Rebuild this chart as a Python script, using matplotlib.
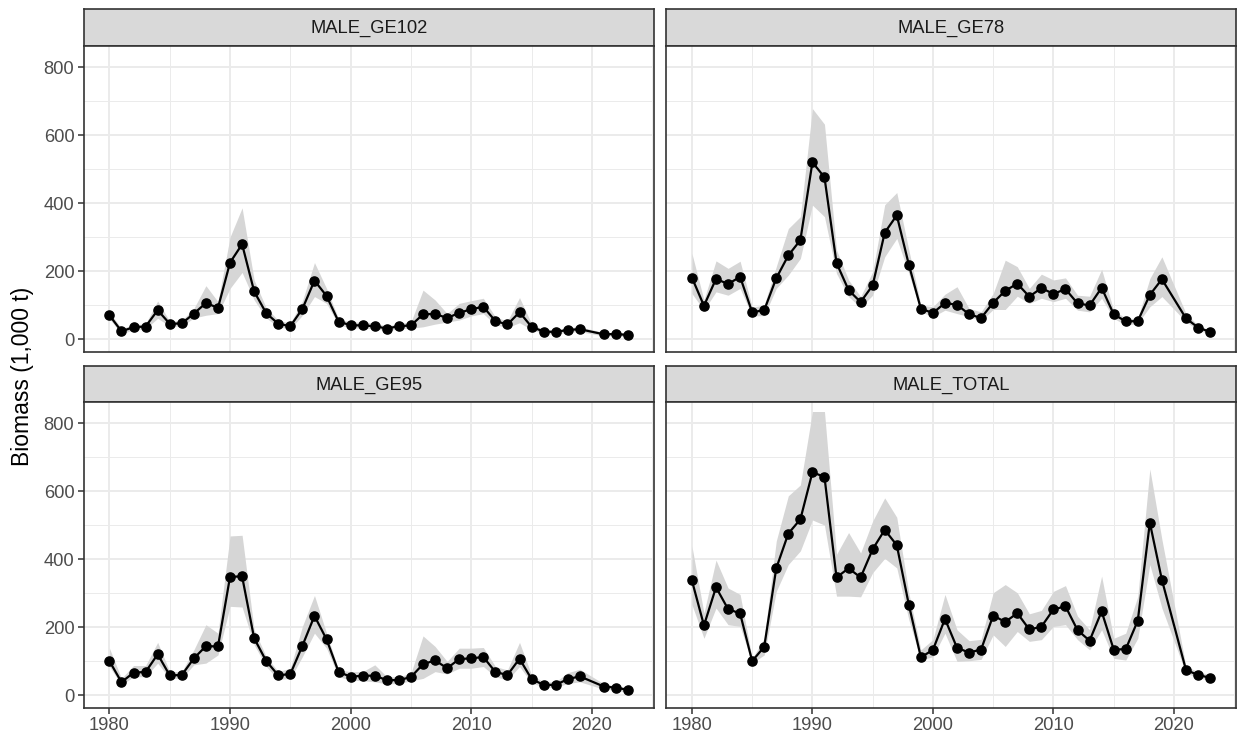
#!/usr/bin/env python3
# -*- coding: utf-8 -*-

import matplotlib
matplotlib.use('Agg')
import matplotlib.pyplot as plt

plt.rcParams['font.family'] = ['Liberation Sans', 'DejaVu Sans']

# survey years (no survey in 2020)
years = list(range(1980, 2020)) + [2021, 2022, 2023]

panel_names = ['MALE_GE102', 'MALE_GE78', 'MALE_GE95', 'MALE_TOTAL']

ge102_est = [70, 23, 35, 37, 85, 45, 46, 75, 106, 92,
             225, 279, 140, 76, 45, 38, 89, 172, 127, 51,
             41, 40, 38, 31, 38, 40, 73, 74, 62, 77,
             88, 95, 53, 43, 79, 36, 22, 21, 27, 29,
             14, 15, 12]
ge102_lo = [60, 15, 28, 30, 61, 38, 38, 62, 70, 75,
            149, 196, 115, 62, 36, 30, 70, 125, 105, 42,
            33, 32, 30, 25, 30, 32, 36, 44, 50, 56,
            68, 75, 42, 34, 48, 28, 16, 15, 20, 22,
            9, 10, 7]
ge102_hi = [80, 31, 42, 45, 112, 52, 55, 90, 157, 110,
            300, 386, 173, 92, 55, 47, 112, 225, 149, 60,
            50, 50, 48, 38, 46, 50, 144, 115, 75, 105,
            113, 120, 65, 53, 122, 45, 28, 27, 34, 36,
            19, 20, 17]

ge78_est = [181, 98, 177, 162, 183, 79, 85, 179, 246, 291,
            520, 476, 224, 144, 109, 158, 313, 364, 219, 89,
            77, 106, 101, 73, 62, 107, 142, 163, 125, 150,
            133, 147, 105, 99, 151, 73, 52, 53, 130, 176,
            61, 34, 21]
ge78_lo = [134, 85, 139, 129, 149, 68, 69, 149, 188, 237,
           394, 360, 193, 125, 93, 129, 242, 296, 193, 80,
           66, 85, 75, 66, 54, 87, 87, 126, 105, 120,
           110, 120, 85, 80, 120, 61, 41, 46, 95, 125,
           51, 26, 15]
ge78_hi = [252, 115, 230, 208, 229, 94, 100, 213, 325, 360,
           678, 632, 262, 174, 125, 198, 395, 431, 262, 100,
           95, 132, 154, 90, 80, 134, 232, 213, 149, 191,
           174, 180, 129, 126, 205, 85, 61, 61, 178, 242,
           75, 41, 25]

ge95_est = [100, 38, 66, 68, 120, 58, 59, 108, 144, 143,
            348, 349, 167, 100, 58, 62, 145, 233, 164, 68,
            54, 57, 57, 44, 44, 53, 91, 102, 79, 106,
            108, 112, 68, 59, 107, 47, 30, 30, 47, 55,
            25, 22, 15]
ge95_lo = [84, 30, 54, 54, 94, 49, 49, 89, 94, 118,
           261, 259, 148, 84, 46, 49, 113, 182, 138, 54,
           44, 42, 39, 33, 34, 42, 49, 69, 62, 79,
           79, 84, 54, 44, 84, 36, 23, 23, 34, 39,
           17, 15, 7]
ge95_hi = [138, 49, 87, 87, 155, 69, 69, 133, 207, 182,
           468, 470, 192, 113, 69, 79, 202, 293, 182, 74,
           69, 69, 89, 54, 54, 64, 174, 143, 99, 138,
           138, 140, 84, 74, 155, 59, 39, 39, 66, 76,
           33, 27, 23]

total_est = [337, 205, 317, 253, 240, 100, 142, 373, 475, 517,
             655, 642, 346, 373, 346, 429, 486, 441, 266, 111,
             133, 224, 139, 125, 134, 234, 215, 241, 193, 201,
             252, 261, 191, 160, 246, 134, 135, 219, 507, 339,
             74, 59, 51]
total_lo = [266, 167, 256, 207, 202, 94, 118, 305, 384, 424,
            515, 500, 291, 291, 289, 360, 402, 374, 222, 103,
            113, 182, 99, 101, 105, 177, 143, 187, 158, 163,
            202, 207, 163, 133, 192, 108, 103, 167, 384, 256,
            64, 52, 42]
total_hi = [438, 241, 397, 315, 296, 108, 167, 453, 586, 618,
            834, 834, 414, 478, 418, 512, 580, 523, 300, 133,
            163, 296, 192, 160, 164, 301, 325, 301, 239, 249,
            305, 322, 232, 192, 350, 167, 182, 290, 665, 458,
            84, 69, 59]

W, H = 1238, 742


def px_rect(x0, y0, x1, y1):
    # pixel box (top-left origin) -> figure fraction
    return [x0 / W, 1 - y1 / H, (x1 - x0) / W, (y1 - y0) / H]


def draw_strip(fig, x0, x1, y0, y1, name):
    sax = fig.add_axes(px_rect(x0, y0, x1, y1))
    sax.set_facecolor('#D9D9D9')
    sax.set_xticks([])
    sax.set_yticks([])
    for sp in sax.spines.values():
        sp.set_color('#333333')
        sp.set_linewidth(1.2)
    sax.text(0.5, 0.47, name, ha='center', va='center', fontsize=13.2,
             color='#1A1A1A', transform=sax.transAxes)


def draw_panel(fig, x0, x1, y0, y1, est, lo, hi, show_x, show_y):
    ax = fig.add_axes(px_rect(x0, y0, x1, y1))
    ax.set_facecolor('white')
    ax.fill_between(years, lo, hi, color='#D6D6D6', linewidth=0, zorder=2)
    ax.plot(years, est, color='black', linewidth=1.6, zorder=3)
    ax.plot(years, est, 'o', color='black', markersize=6.6, zorder=4)

    ax.set_xlim(1977.85, 2025.15)
    ax.set_ylim(-38, 862)
    ax.set_xticks([1980, 1990, 2000, 2010, 2020])
    ax.set_xticks([1985, 1995, 2005, 2015, 2025], minor=True)
    ax.set_yticks([0, 200, 400, 600, 800])
    ax.set_yticks([100, 300, 500, 700], minor=True)
    ax.grid(which='major', color='#EBEBEB', linewidth=1.4, zorder=0)
    ax.grid(which='minor', color='#EBEBEB', linewidth=0.7, zorder=0)
    ax.set_axisbelow(True)

    for sp in ax.spines.values():
        sp.set_color('#333333')
        sp.set_linewidth(1.2)

    ax.tick_params(which='minor', length=0)
    ax.tick_params(which='major', length=4.1, width=1.1, color='#333333',
                   labelsize=13.2, labelcolor='#4D4D4D', pad=2.5)
    ax.tick_params(axis='x', bottom=show_x, labelbottom=show_x)
    ax.tick_params(axis='y', left=show_y, labelleft=show_y)
    return ax


def main():
    fig = plt.figure(figsize=(W / 100, H / 100), dpi=100)
    fig.patch.set_facecolor('white')

    cols = [(83.5, 654), (666, 1236)]
    rows = [((9, 46), (46, 352)), ((366, 402), (402, 708))]
    data = [(ge102_est, ge102_lo, ge102_hi),
            (ge78_est, ge78_lo, ge78_hi),
            (ge95_est, ge95_lo, ge95_hi),
            (total_est, total_lo, total_hi)]

    for i, name in enumerate(panel_names):
        r, c = divmod(i, 2)
        x0, x1 = cols[c]
        (sy0, sy1), (py0, py1) = rows[r]
        draw_strip(fig, x0, x1, sy0, sy1, name)
        est, lo, hi = data[i]
        draw_panel(fig, x0, x1, py0, py1, est, lo, hi,
                   show_x=(r == 1), show_y=(c == 0))

    fig.text(22 / W, 1 - 376 / H, 'Biomass (1,000 t)', rotation=90,
             ha='center', va='center', fontsize=16.5, color='black')

    fig.savefig('out.png', dpi=100)


if __name__ == '__main__':
    main()
